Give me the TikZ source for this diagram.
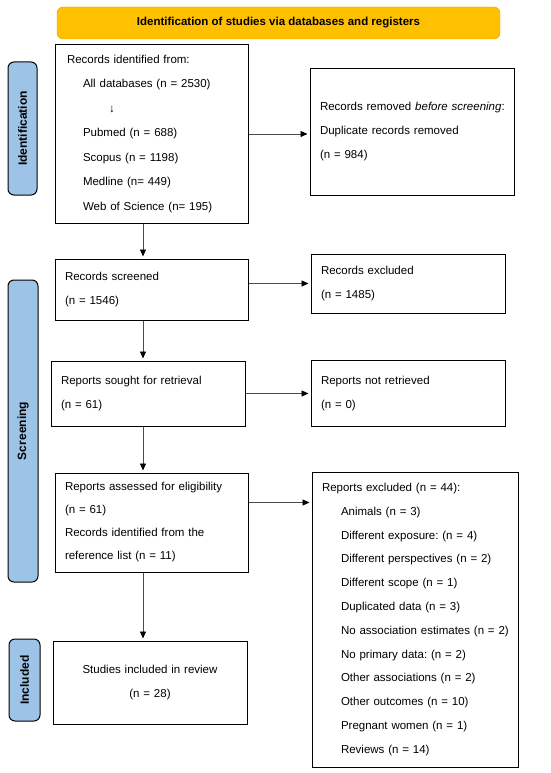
\documentclass[tikz,border=0pt]{standalone}
\usepackage{fontspec}
\setmainfont{Liberation Sans}
\usetikzlibrary{arrows.meta,positioning}
\definecolor{prismaorange}{RGB}{255,192,0}
\definecolor{prismaedge}{RGB}{214,160,0}
\definecolor{prismablue}{RGB}{157,195,230}
\frenchspacing

\begin{document}
\begin{tikzpicture}[x=1pt,y=-1pt,
        box/.style={draw,line width=1pt,align=left,inner xsep=10pt,inner ysep=0pt,
                    font=\fontsize{11.5}{24}\selectfont},
        phase/.style={draw,line width=1pt,fill=prismablue,rounded corners=6pt,rotate=90,
                      inner sep=0pt,font=\fontsize{12}{14}\selectfont\bfseries},
        banner/.style={draw=prismaedge,fill=prismaorange,rounded corners=6pt,
                       minimum width=443pt,minimum height=32pt,
                       font=\fontsize{11.5}{14}\selectfont\bfseries},
        arrow/.style={-{Triangle[length=7pt,width=6pt,black]},line width=0.9pt,black!70,
                      shorten >=2pt}
    ]
        \useasboundingbox (0,0) rectangle (550,773);
        \node[banner] (head) at (278.5,23) {Identification of studies via databases and registers};
        \node[phase,minimum width=133pt,minimum height=29pt] (tabid) at (22.5,128.5) {Identification};
        \node[phase,minimum width=302pt,minimum height=30pt] (tabscr) at (23,431) {Screening};
        \node[phase,minimum width=82pt,minimum height=31pt] (tabinc) at (24.5,680) {Included};
        \node[box,text width=169pt,inner xsep=12pt,minimum height=178pt,
              font=\fontsize{11.5}{24.5}\selectfont] (id) at (151.5,134)
            {Records identified from:\\
             \hspace*{16pt}All databases (n = 2530)\\
             \hspace*{42pt}↓\\
             \hspace*{16pt}Pubmed (n = 688)\\
             \hspace*{16pt}Scopus (n = 1198)\\
             \hspace*{16pt}Medline (n= 449)\\
             \hspace*{16pt}Web of Science (n= 195)};
        \node[box,text width=184pt,minimum height=126pt,right=61pt of id,yshift=2pt] (rem)
            {\mbox{Records removed \textit{before screening}:}\\Duplicate records removed\\(n = 984)};
        \node[box,text width=173pt,minimum height=61pt,below=35pt of id] (scr)
            {Records screened\\(n = 1546)};
        \node[box,text width=174pt,minimum height=59pt,right=62pt of scr,yshift=6pt] (rexc)
            {Records excluded\\(n = 1485)};
        \node[box,text width=174pt,minimum height=65pt,below=40pt of scr,xshift=-3.5pt] (sought)
            {Reports sought for retrieval\\(n = 61)};
        \node[box,text width=174pt,minimum height=66pt,right=65pt of sought] (nret)
            {Reports not retrieved\\(n = 0)};
        \node[box,text width=173pt,minimum height=99pt,below=46pt of sought,xshift=3.5pt,
              font=\fontsize{11.5}{23}\selectfont] (asse)
            {Reports assessed for eligibility\\(n = 61)\\Records identified from the\\reference list (n = 11)};
        \node[box,text width=186pt,minimum height=295pt,right=63pt of asse.north east,
              anchor=north west,yshift=1pt,font=\fontsize{11.5}{23.8}\selectfont] (pexc)
            {Reports excluded (n = 44):\\
             \hspace*{19pt}Animals (n = 3)\\
             \hspace*{19pt}Different exposure: (n = 4)\\
             \hspace*{19pt}Different perspectives (n = 2)\\
             \hspace*{19pt}Different scope (n = 1)\\
             \hspace*{19pt}Duplicated data (n = 3)\\
             \hspace*{19pt}\mbox{No association estimates (n = 2)}\\
             \hspace*{19pt}No primary data: (n = 2)\\
             \hspace*{19pt}Other associations (n = 2)\\
             \hspace*{19pt}Other outcomes (n = 10)\\
             \hspace*{19pt}Pregnant women (n = 1)\\
             \hspace*{19pt}Reviews (n = 14)};
        \node[box,text width=174pt,minimum height=83pt,align=center,below=68pt of asse,xshift=-1.5pt] (incl)
            {Studies included in review\\(n = 28)};
        \coordinate (trunk) at (143,0);
        \draw[arrow] (id.east) -- (id.east -| rem.west);
        \draw[arrow] (id.south -| trunk) -- (scr.north -| trunk);
        \draw[arrow] (scr.east |- rexc.west) -- (rexc.west);
        \draw[arrow] (scr.south -| trunk) -- (sought.north -| trunk);
        \draw[arrow] (sought.east) -- (sought.east -| nret.west);
        \draw[arrow] (sought.south -| trunk) -- (asse.north -| trunk);
        \draw[arrow] ([yshift=-30pt]asse.north east) -- ([yshift=-30pt]asse.north east -| pexc.west);
        \draw[arrow] (asse.south -| trunk) -- (incl.north -| trunk);
    \end{tikzpicture}
\end{document}
